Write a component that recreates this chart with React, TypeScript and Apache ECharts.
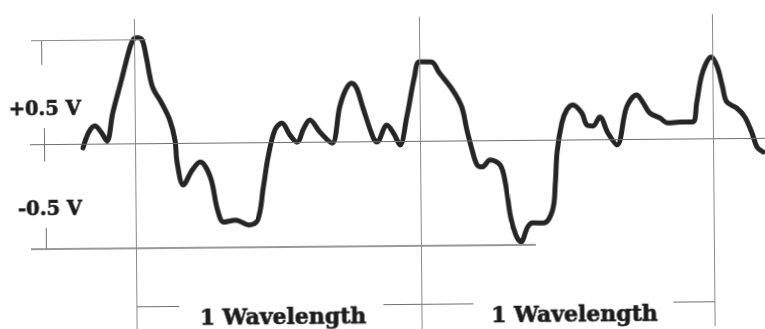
import React, { useEffect, useRef } from "react";
import * as echarts from "echarts";

// Sampled trace: time (arbitrary units, 0 = start of first wavelength) and voltage (V)
const times = [
  -52, -46, -40, -34, -28, -22, -13, -5, -1, 3, 8, 12, 18, 27, 35, 40, 42, 48, 57, 65,
  75, 82, 88, 100, 113, 122, 128, 133, 140, 147, 155, 162, 169, 175, 185, 197, 205, 211, 217, 222,
  228, 238, 242, 252, 259, 265, 272, 280, 285, 297, 305, 318, 327, 332, 337, 342, 347, 355, 365, 370,
  375, 380, 385, 392, 397, 408, 417, 420, 422, 427, 432, 438, 447, 452, 458, 465, 473, 482, 492, 502,
  508, 515, 525, 533, 545, 558, 562, 568, 577, 583, 588, 592, 602, 610, 617, 622, 628,
];
const volts = [
  -0.017, 0.059, 0.088, 0.059, 0.015, 0.149, 0.307, 0.451, 0.499, 0.509, 0.499, 0.417, 0.273, 0.195, 0.113, 0.017, -0.093, -0.199, -0.128, -0.09,
  -0.162, -0.321, -0.379, -0.37, -0.394, -0.371, -0.212, -0.068, 0.061, 0.094, 0.036, 0.002, 0.069, 0.107, 0.049, -0.004, 0.169, 0.25, 0.283, 0.259,
  0.168, 0.023, -0.001, 0.08, 0.037, -0.016, 0.118, 0.31, 0.382, 0.381, 0.328, 0.246, 0.164, 0.053, -0.043, -0.116, -0.125, -0.092, -0.117, -0.203,
  -0.367, -0.453, -0.487, -0.415, -0.396, -0.397, -0.335, -0.205, -0.057, 0.083, 0.145, 0.169, 0.13, 0.072, 0.067, 0.11, 0.033, -0.025, 0.157, 0.214,
  0.18, 0.127, 0.103, 0.078, 0.082, 0.082, 0.173, 0.317, 0.393, 0.345, 0.249, 0.177, 0.147, 0.104, 0.027, -0.041, -0.065,
];

// Start of each wavelength along the time axis
const wavelengthMarks = [0, 285, 578];
// Voltage reference levels
const upperLevel = 0.5;
const zeroLevel = 0;
const lowerLevel = -0.5;
const levelLabels = ["+0.5 V", "-0.5 V"];
const spanLabel = "1 Wavelength";

const SERIF = '"DejaVu Serif", "Liberation Serif", serif';

export default function App() {
  const ref = useRef<HTMLDivElement>(null);

  useEffect(() => {
    if (!ref.current) return;
    const chart = echarts.init(ref.current, null, { renderer: "svg" });

    const thin = { color: "#6f6f6f", width: 1, type: "solid" as const };
    const faint = { color: "#8a8a8a", width: 1, type: "solid" as const };
    const seg = (x1: number, y1: number, x2: number, y2: number, lineStyle: any) => [
      { coord: [x1, y1], lineStyle },
      { coord: [x2, y2] },
    ];

    const dimY = -0.78;
    const marks: any[] = [
      // horizontal reference levels
      seg(-103, upperLevel, 12, upperLevel, faint),
      seg(-105, zeroLevel, 630, zeroLevel, thin),
      seg(-105, lowerLevel, 400, lowerLevel, { color: "#9a9a9a", width: 2, type: "solid" }),
      // short level ticks on the left
      seg(-93, upperLevel, -93, 0.383, thin),
      seg(-91, 0.08, -91, -0.08, thin),
      seg(-90, -0.4, -90, lowerLevel, thin),
      // wavelength boundaries
      ...wavelengthMarks.map((t) => seg(t, 0.6, t, -0.9, faint)),
      // dimension lines for the wavelength spans
      seg(wavelengthMarks[0], dimY, 43, dimY, thin),
      seg(247, dimY, 337, dimY, thin),
      seg(537, dimY, wavelengthMarks[2], dimY, thin),
    ];

    const textStyle = (text: string, size: number) => ({
      text,
      font: `bold ${size}px ${SERIF}`,
      fill: "#1c1c1c",
      stroke: "#1c1c1c",
      lineWidth: 0.7,
      align: "center",
      verticalAlign: "middle",
    });

    chart.setOption({
      animation: false,
      backgroundColor: "#ffffff",
      grid: { left: 0, right: 0, top: 0, bottom: 0 },
      xAxis: { type: "value", min: -135, max: 630, show: false },
      yAxis: { type: "value", min: -0.9, max: 0.68, show: false },
      series: [
        {
          type: "line",
          data: [],
          silent: true,
          z: 1,
          markLine: {
            silent: true,
            symbol: ["none", "none"],
            label: { show: false },
            emphasis: { disabled: true },
            data: marks,
          },
        },
        {
          type: "line",
          data: times.map((t, i) => [t, volts[i]]),
          smooth: 0.35,
          showSymbol: false,
          silent: true,
          z: 3,
          lineStyle: { color: "#252525", width: 5, cap: "round", join: "round" },
        },
      ],
      graphic: [
        { type: "text", x: 45, y: 105, style: textStyle(levelLabels[0], 19.5) },
        { type: "text", x: 49.5, y: 205, style: textStyle(levelLabels[1], 19.5) },
        { type: "text", x: 281.5, y: 314.5, style: textStyle(spanLabel, 22) },
        { type: "text", x: 573, y: 314.5, style: textStyle(spanLabel, 22) },
      ],
    });

    return () => chart.dispose();
  }, []);

  return (
    <div
      ref={ref}
      style={{
        position: "fixed",
        left: 0,
        top: 0,
        width: 765,
        height: 329,
        transform: "rotate(-0.5deg)",
        transformOrigin: "400px 142px",
        background: "#ffffff",
      }}
    />
  );
}
